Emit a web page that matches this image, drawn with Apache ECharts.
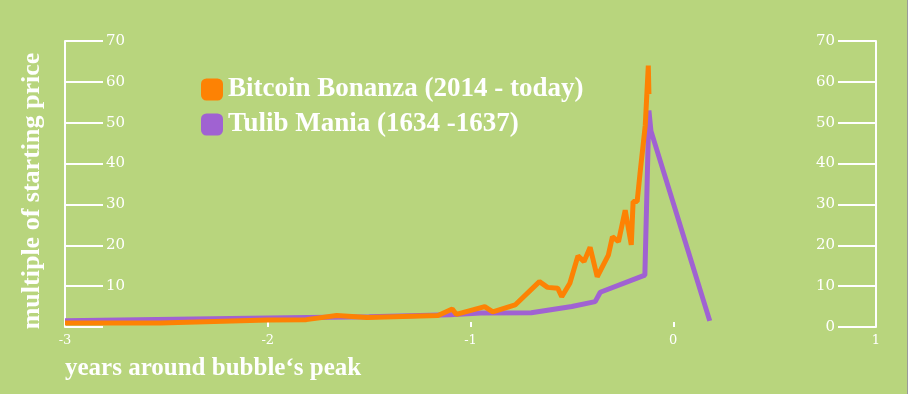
<!DOCTYPE html>
<html>
<head>
<meta charset="utf-8">
<script src="https://cdn.jsdelivr.net/npm/echarts@6/dist/echarts.min.js"></script>
<style>
html,body{margin:0;padding:0;background:#ffffff;}
#chart{position:absolute;left:0;top:0;width:907px;height:394px;background:#b8d57d;border-right:1px solid #9a9a9a;}
</style>
</head>
<body>
<div id="chart"></div>
<script>
// ---- data ----
const seriesNames = ['Bitcoin Bonanza (2014 - today)', 'Tulib Mania (1634 -1637)'];
const xTicks = [-3, -2, -1, 0, 1];
const yTicks = [0, 10, 20, 30, 40, 50, 60, 70];

const bitcoinYears = [-3, -2.53, -2.0, -1.81, -1.66, -1.51, -1.16, -1.09, -1.07, -0.93, -0.89, -0.78,
  -0.66, -0.62, -0.57, -0.55, -0.51, -0.47, -0.44, -0.41, -0.375, -0.32, -0.30, -0.27,
  -0.237, -0.207, -0.198, -0.178, -0.163, -0.138, -0.123, -0.12];
const bitcoinValues = [1, 1, 1.7, 1.8, 2.8, 2.3, 2.8, 4.4, 3.1, 5.0, 3.7, 5.4,
  11.1, 9.7, 9.5, 7.4, 10.7, 17.4, 16.0, 19.5, 12.3, 17.6, 22.1, 20.9,
  28.6, 20.1, 30.7, 30.7, 38.0, 49.4, 64.0, 57.0];

const tulipYears = [-3, -2, -1.5, -1.1, -0.95, -0.7, -0.5, -0.385, -0.36, -0.14, -0.12, -0.11, 0.18];
const tulipValues = [1.5, 2.2, 2.5, 3.0, 3.4, 3.5, 5.0, 6.2, 8.5, 12.7, 53, 48, 1.5];

const bitcoinData = bitcoinYears.map((x, i) => [x, bitcoinValues[i]]);
const tulipData = tulipYears.map((x, i) => [x, tulipValues[i]]);

const white = '#ffffff';
const serif = '"DejaVu Serif", "Liberation Serif", serif';
const titleFont = '"Liberation Serif", "DejaVu Serif", serif';

const chart = echarts.init(document.getElementById('chart'));
chart.setOption({
  backgroundColor: '#b8d57d',
  animation: false,
  grid: {left: 65, right: 31, top: 41, bottom: 67},
  legend: {
    orient: 'vertical',
    left: 196, top: 71,
    itemWidth: 22, itemHeight: 22, itemGap: 8,
    icon: 'roundRect',
    data: seriesNames,
    textStyle: {color: white, fontSize: 27, fontFamily: titleFont, fontWeight: 'bold'}
  },
  xAxis: {
    type: 'value',
    min: xTicks[0], max: xTicks[xTicks.length - 1], interval: 1,
    name: 'years around bubble‘s peak',
    nameLocation: 'start',
    nameGap: 0,
    nameTextStyle: {color: white, fontSize: 25, fontFamily: titleFont, fontWeight: 'bold',
      align: 'left', verticalAlign: 'top', padding: [29, 0, 0, 0]},
    axisLine: {show: false},
    axisTick: {show: true, inside: true, length: 5, lineStyle: {color: white, width: 2}},
    axisLabel: {color: white, fontSize: 13, fontFamily: serif, margin: 7},
    splitLine: {show: false}
  },
  yAxis: [
    {
      type: 'value', position: 'left',
      min: yTicks[0], max: yTicks[yTicks.length - 1], interval: 10,
      name: 'multiple of starting price',
      nameLocation: 'middle', nameGap: 20, nameRotate: 90,
      nameTextStyle: {color: white, fontSize: 26, fontFamily: titleFont, fontWeight: 'bold', padding: [0, 14, 0, 0]},
      axisLine: {show: true, onZero: false, lineStyle: {color: white, width: 2}},
      axisTick: {show: true, inside: true, length: 38, lineStyle: {color: white, width: 2}},
      axisLabel: {inside: true, margin: 41, color: white, fontSize: 15, fontFamily: serif,
        formatter: v => (v === 0 ? '' : String(v))},
      splitLine: {show: false}
    },
    {
      type: 'value', position: 'right',
      min: yTicks[0], max: yTicks[yTicks.length - 1], interval: 10,
      axisLine: {show: true, onZero: false, lineStyle: {color: white, width: 2}},
      axisTick: {show: true, inside: true, length: 38, lineStyle: {color: white, width: 2}},
      axisLabel: {inside: true, margin: 41, color: white, fontSize: 15, fontFamily: serif},
      splitLine: {show: false}
    }
  ],
  series: [
    {
      name: seriesNames[1], type: 'line', yAxisIndex: 0,
      data: tulipData, showSymbol: false, symbol: 'none',
      itemStyle: {color: '#a062d2'},
      lineStyle: {color: '#a062d2', width: 5}
    },
    {
      name: seriesNames[0], type: 'line', yAxisIndex: 0,
      data: bitcoinData, showSymbol: false, symbol: 'none',
      itemStyle: {color: '#fd8204'},
      lineStyle: {color: '#fd8204', width: 5}
    }
  ]
});
</script>
</body>
</html>
